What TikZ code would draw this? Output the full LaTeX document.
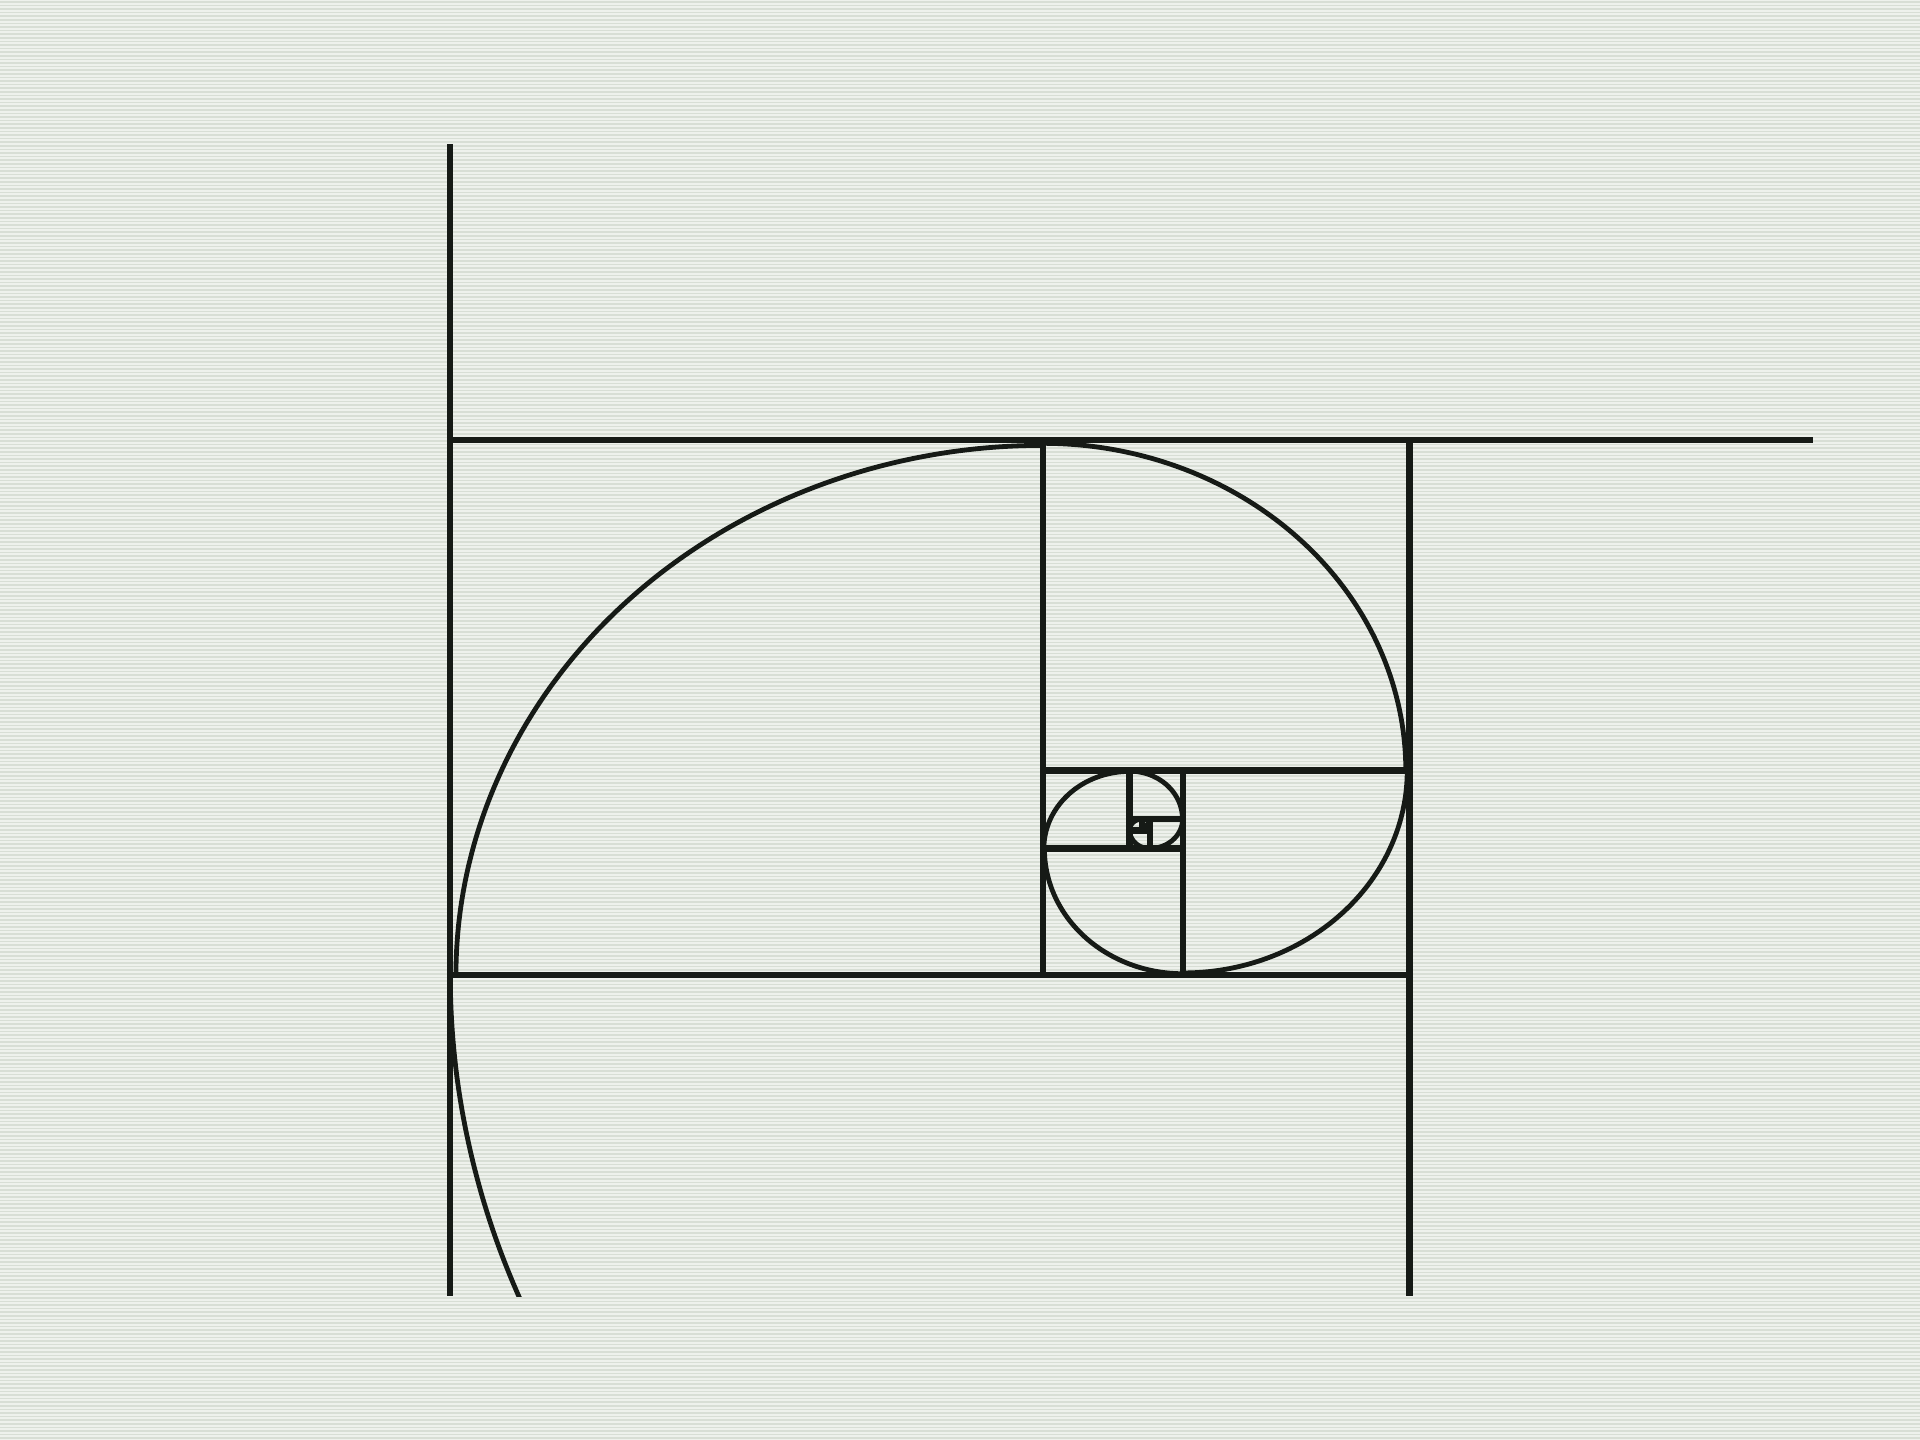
\documentclass[tikz,border=0pt]{standalone}
\usepackage{tikz}
\definecolor{bglight}{HTML}{EEF1EC}
\definecolor{bgdark}{HTML}{D8DED5}
\definecolor{ink}{HTML}{161A16}
\begin{document}
\begin{tikzpicture}[x=1pt,y=-1pt,
  frameline/.style={ink,line width=6.5pt,line cap=butt},
  spiralline/.style={ink,line width=4.8pt,line cap=butt,line join=round}]
\useasboundingbox (0,0) rectangle (1920,1440);
\fill[bglight] (0,0) rectangle (1920,1440);
\foreach \i in {0,...,399} {\fill[bgdark] (0,\i*3.6+1.0) rectangle (1920,\i*3.6+2.6);}
% outer lines (cropped)
\draw[frameline] (450,144) -- (450,1296);
\draw[frameline] (447,440) -- (1813,440);
\draw[frameline] (1409.5,437) -- (1409.5,1296);
\draw[frameline] (450,975) -- (1412.7,975);
% squares
\draw[frameline] (1043,440) -- (1043,975);
\draw[frameline] (1043,770.65) -- (1409.5,770.65);
\draw[frameline] (1183,770.65) -- (1183,975);
\draw[frameline] (1043,848.7) -- (1183,848.7);
\draw[frameline] (1129.5,770.65) -- (1129.5,848.7);
\draw[frameline] (1129.5,818.9) -- (1183,818.9);
\draw[frameline] (1149.9,818.9) -- (1149.9,848.7);
\draw[frameline] (1129.5,830.3) -- (1149.9,830.3);
\draw[frameline] (1142.1,818.9) -- (1142.1,830.3);
\draw[frameline] (1142.1,825.9) -- (1149.9,825.9);
\draw[frameline] (1145.1,825.9) -- (1145.1,830.3);
% spiral: quarter-ellipse arcs centred on square corners
\begin{scope}
\clip (0,144) rectangle (1813,1296);
\foreach \cx/\cy/\s/\ta/\tb in {
  1409.5/975/1.634/90/180,
  1043/975/1/180/270,
  1043/770.65/0.618034/270/360,
  1183/770.65/0.381966/0/90,
  1183/848.7/0.236068/90/180,
  1129.5/848.7/0.145898/180/270,
  1129.5/818.9/0.090170/270/360,
  1149.9/818.9/0.055728/0/90,
  1149.9/830.3/0.034442/90/180,
  1142.1/830.3/0.021286/180/270,
  1142.1/825.9/0.013156/270/360}
{\draw[spiralline] plot[domain=\ta:\tb,samples=80,variable=\t,smooth]
 ({\cx+0.99*\s*593*cos(\t)},{\cy+0.99*\s*535*sin(\t)});}
\end{scope}
\end{tikzpicture}
\end{document}
